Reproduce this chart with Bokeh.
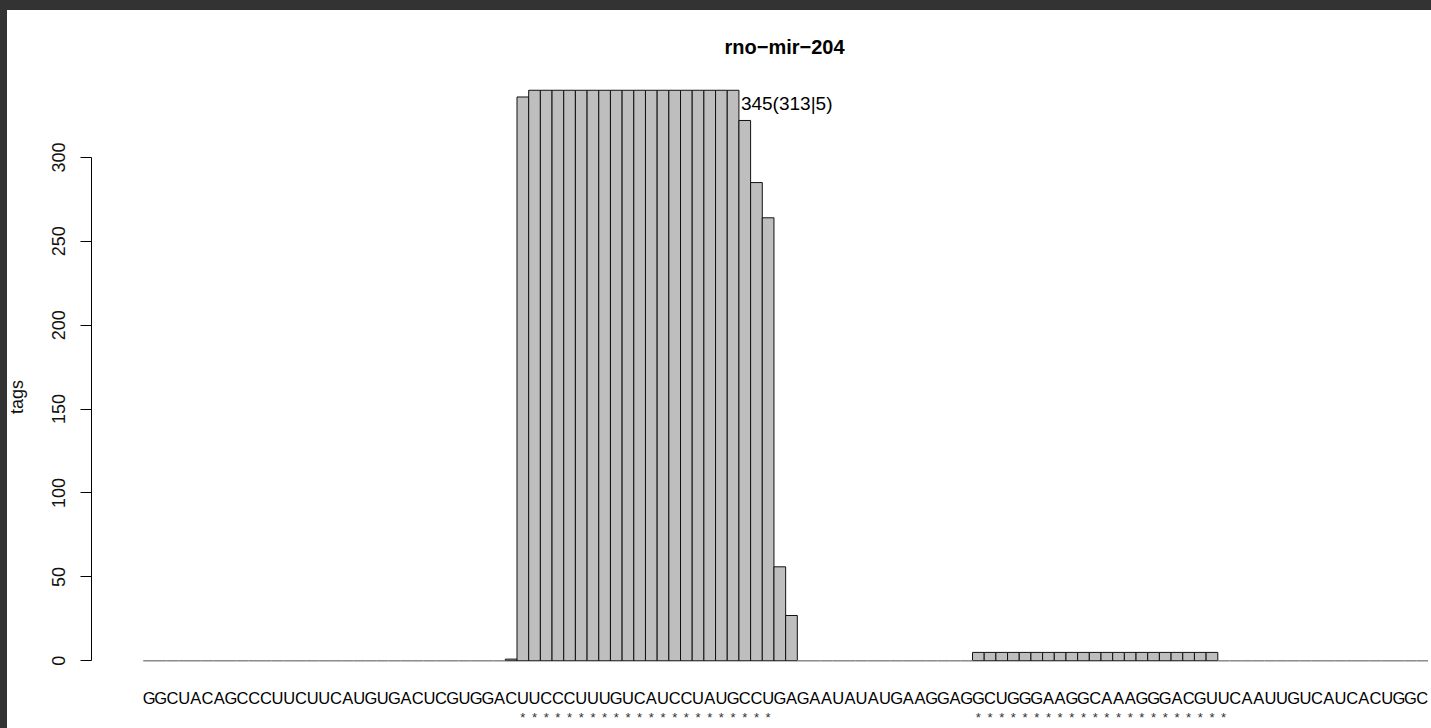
from bokeh.plotting import figure
from bokeh.models import Range1d, FixedTicker, ColumnDataSource
from bokeh.core.properties import value
from bokeh.embed import file_html
from bokeh.resources import INLINE

# rno-mir-204 hairpin, one base per bar
sequence = "GGCUACAGCCCUUCUUCAUGUGACUCGUGGACUUCCCUUUGUCAUCCUAUGCCUGAGAAUAUAUGAAGGAGGCUGGGAAGGCAAAGGGACGUUCAAUUGUCAUCACUGGC"

# read coverage (tags) per position, 1-based
tag_counts = [
    0, 0, 0, 0, 0, 0, 0, 0, 0, 0,
    0, 0, 0, 0, 0, 0, 0, 0, 0, 0,
    0, 0, 0, 0, 0, 0, 0, 0, 0, 0,
    0, 1, 336, 340, 340, 340, 340, 340, 340, 340,
    340, 340, 340, 340, 340, 340, 340, 340, 340, 340,
    340, 322, 285, 264, 56, 27, 0, 0, 0, 0,
    0, 0, 0, 0, 0, 0, 0, 0, 0, 0,
    0, 5, 5, 5, 5, 5, 5, 5, 5, 5,
    5, 5, 5, 5, 5, 5, 5, 5, 5, 5,
    5, 5, 0, 0, 0, 0, 0, 0, 0, 0,
    0, 0, 0, 0, 0, 0, 0, 0, 0, 0,
]

# annotated mature arms (marked with asterisks)
arm_5p = (33, 54)
arm_3p = (72, 93)

y_ticks = [0, 50, 100, 150, 200, 250, 300]
peak_label = "345(313|5)"
title_text = "rno\u2212mir\u2212204"

positions = list(range(1, len(sequence) + 1))
centers = [p - 0.5 for p in positions]
star_positions = list(range(arm_5p[0], arm_5p[1] + 1)) + list(range(arm_3p[0], arm_3p[1] + 1))

# scale: pixels per base and per tag
PX_BASE = 11.68
PX_TAG = 1.678
W, H = 1429, 718
LEFT, TOP = 89, 55
frame_w = W - LEFT
frame_h = H - TOP
x0 = -4.43
y0 = -40.35
BASE_PX = 650.3  # canvas row of zero tags


def below(px):
    """Data y for a row given in canvas pixels."""
    return (BASE_PX - px) / PX_TAG


p = figure(
    width=W, height=H,
    x_range=Range1d(x0, x0 + frame_w / PX_BASE),
    y_range=Range1d(y0, y0 + frame_h / PX_TAG),
    output_backend="svg", toolbar_location=None,
    x_axis_location=None, y_axis_location="left",
    min_border_left=LEFT, min_border_right=0,
    min_border_top=TOP, min_border_bottom=0,
    background_fill_color="white", border_fill_color="white",
)
p.outline_line_color = None
p.grid.visible = False

p.title.text = title_text
p.title.text_font = "Liberation Sans"
p.title.text_font_size = "20px"
p.title.text_font_style = "bold"
p.title.text_color = "black"
p.title.align = "left"
p.title.offset = 633
p.title.standoff = 15

# bars
nz = [(c, v) for c, v in zip(centers, tag_counts) if v > 0]
bars = ColumnDataSource(dict(x=[c for c, _ in nz], top=[v for _, v in nz]))
p.vbar(x="x", top="top", bottom=0, width=1.0, source=bars,
       fill_color="#BEBEBE", line_color="#111111", line_width=1)

# zero-height bars collapse to the baseline
zero = [pos for pos, v in zip(positions, tag_counts) if v == 0]
p.segment(x0=[z - 1 for z in zero], x1=zero, y0=0, y1=0,
          line_color="#8a8a8a", line_width=1.5)

# coverage label next to the highest bar
peak = max(tag_counts)
last_peak = max(pos for pos, v in zip(positions, tag_counts) if v == peak)
p.text(x=[last_peak], y=[below(93)], text=[peak_label],
       text_font=value("Liberation Sans"), text_font_size="19px",
       text_align="left", text_baseline="middle", text_color="black",
       x_offset=2)

# sequence under the bars
p.text(x=centers, y=[below(687.5)] * len(centers), text=list(sequence),
       text_font=value("Liberation Sans"), text_font_size="16.5px",
       text_align="center", text_baseline="alphabetic", text_color="black")

# asterisks under the mature arms
p.text(x=[s - 0.5 for s in star_positions],
       y=[below(707.5)] * len(star_positions),
       text=["*"] * len(star_positions),
       text_font=value("Liberation Sans"), text_font_size="13px",
       text_align="center", text_baseline="middle", text_color="#333333")

ax = p.yaxis[0]
ax.bounds = (0, 300)
ax.ticker = FixedTicker(ticks=y_ticks)
ax.major_tick_out = 11
ax.major_tick_in = 0
ax.minor_tick_out = 0
ax.minor_tick_in = 0
ax.axis_line_color = "black"
ax.major_tick_line_color = "black"
ax.major_label_orientation = "vertical"
ax.major_label_text_font = "Liberation Sans"
ax.major_label_text_font_size = "18px"
ax.major_label_text_color = "#111111"
ax.major_label_standoff = 15
ax.axis_label = "tags"
ax.axis_label_text_font = "Liberation Sans"
ax.axis_label_text_font_size = "18px"
ax.axis_label_text_font_style = "normal"
ax.axis_label_text_color = "#111111"
ax.axis_label_standoff = 23

html = file_html(p, INLINE, title="rno-mir-204")
page_style = (
    "<style>"
    "html,body{margin:0;background:#ffffff;}"
    "body{padding:10px 0 0 2px;overflow:hidden;}"
    "body::before{content:'';position:fixed;left:0;top:0;width:7px;height:100%;"
    "background:#333333;z-index:9999;}"
    "body::after{content:'';position:fixed;left:0;top:0;width:100%;height:10px;"
    "background:#333333;z-index:9999;}"
    "</style>"
)
html = html.replace("</head>", page_style + "</head>", 1)
open("out.html", "w").write(html)
